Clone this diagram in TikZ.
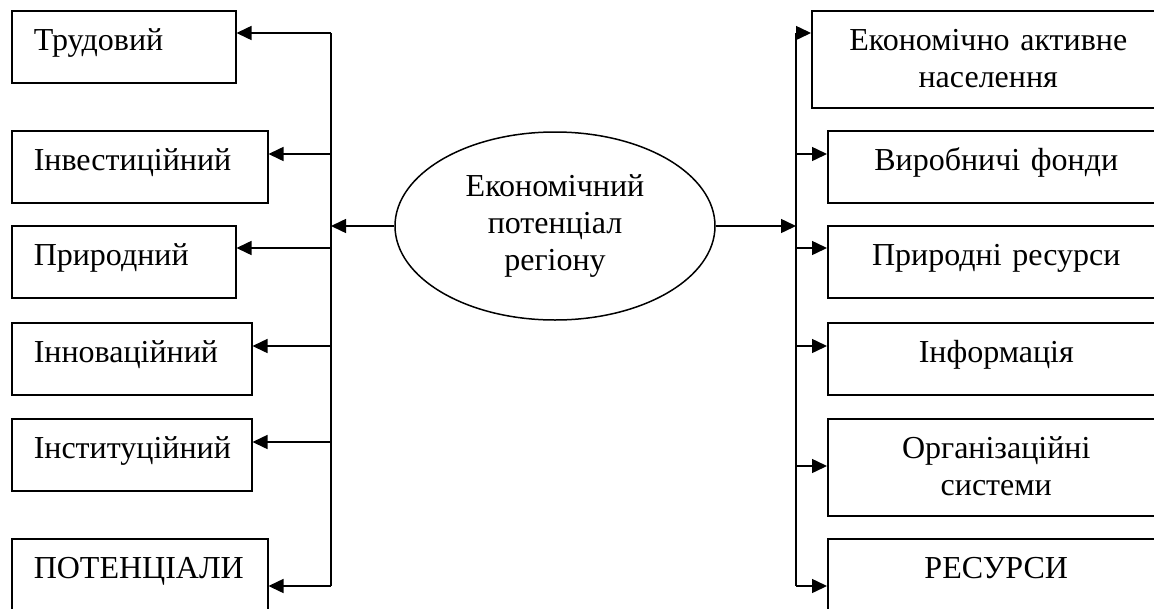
\documentclass[tikz,border=0pt]{standalone}
\usepackage{fontspec}
\setmainfont{Liberation Serif}
\usetikzlibrary{shapes.geometric, arrows.meta}
\tikzstyle{potbox} = [rectangle, draw=black, line width=1.5pt, inner xsep=22pt, inner ysep=0pt, text height=40pt, text depth=32pt, align=left, anchor=north west]
\tikzstyle{resbox} = [rectangle, draw=black, line width=1.5pt, inner xsep=5pt, inner ysep=0pt, text height=40pt, text depth=32pt, align=center, anchor=north west]
\tikzstyle{centre} = [ellipse, draw=black, line width=1.5pt, minimum width=320pt, minimum height=188pt, inner sep=0pt, align=center]
\tikzstyle{line} = [line width=1.5pt]
\tikzstyle{arrow} = [line width=1.5pt, -{Triangle[length=15pt,width=14pt]}]

\begin{document}
\begin{tikzpicture}[x=1pt, y=-1pt, font=\fontsize{32}{37}\selectfont]
\useasboundingbox (0,0) rectangle (1154,608);

\node (econ) [centre] at (555,226) {Економічний\\потенціал\\регіону};

\node (pot1) [potbox, text width=180pt] at (11,10) {Трудовий};
\node (pot2) [potbox, text width=212pt] at (11,130) {Інвестиційний};
\node (pot3) [potbox, text width=180pt] at (11,225) {Природний};
\node (pot4) [potbox, text width=196pt] at (11,322) {Інноваційний};
\node (pot5) [potbox, text width=196pt] at (11,418) {Інституційний};
\node (pot6) [potbox, text width=212pt] at (11,538) {ПОТЕНЦІАЛИ};

\node (res1) [resbox, text width=343pt, text depth=57pt] at (811,10) {Економічно активне\\населення};
\node (res2) [resbox, text width=327pt] at (827,130) {Виробничі фонди};
\node (res3) [resbox, text width=327pt] at (827,225) {Природні ресурси};
\node (res4) [resbox, text width=327pt] at (827,322) {Інформація};
\node (res5) [resbox, text width=327pt, text depth=57pt] at (827,418) {Організаційні\\системи};
\node (res6) [resbox, text width=327pt] at (827,538) {РЕСУРСИ};

\coordinate (lbus1) at (331,33);
\coordinate (lbus2) at (331,154);
\coordinate (lbus3) at (331,248);
\coordinate (lbus4) at (331,346);
\coordinate (lbus5) at (331,442);
\coordinate (lbus6) at (331,586);
\coordinate (rbus1) at (796,33);
\coordinate (rbus2) at (796,154);
\coordinate (rbus3) at (796,248);
\coordinate (rbus4) at (796,346);
\coordinate (rbus5) at (796,466);
\coordinate (rbus6) at (796,586);

\draw [line] (lbus1) -- (lbus6);
\draw [line] (rbus1) -- (rbus6);

\draw [arrow] (econ.west) -- (econ.west -| lbus1);
\draw [arrow] (econ.east) -- (econ.east -| rbus1);

\draw [arrow] (lbus1) -- (pot1.east |- lbus1);
\draw [arrow] (lbus2) -- (pot2.east |- lbus2);
\draw [arrow] (lbus3) -- (pot3.east |- lbus3);
\draw [arrow] (lbus4) -- (pot4.east |- lbus4);
\draw [arrow] (lbus5) -- (pot5.east |- lbus5);
\draw [arrow] (lbus6) -- (pot6.east |- lbus6);

\draw [arrow] (rbus1) -- (res1.west |- rbus1);
\draw [arrow] (rbus2) -- (res2.west |- rbus2);
\draw [arrow] (rbus3) -- (res3.west |- rbus3);
\draw [arrow] (rbus4) -- (res4.west |- rbus4);
\draw [arrow] (rbus5) -- (res5.west |- rbus5);
\draw [arrow] (rbus6) -- (res6.west |- rbus6);
\end{tikzpicture}
\end{document}
